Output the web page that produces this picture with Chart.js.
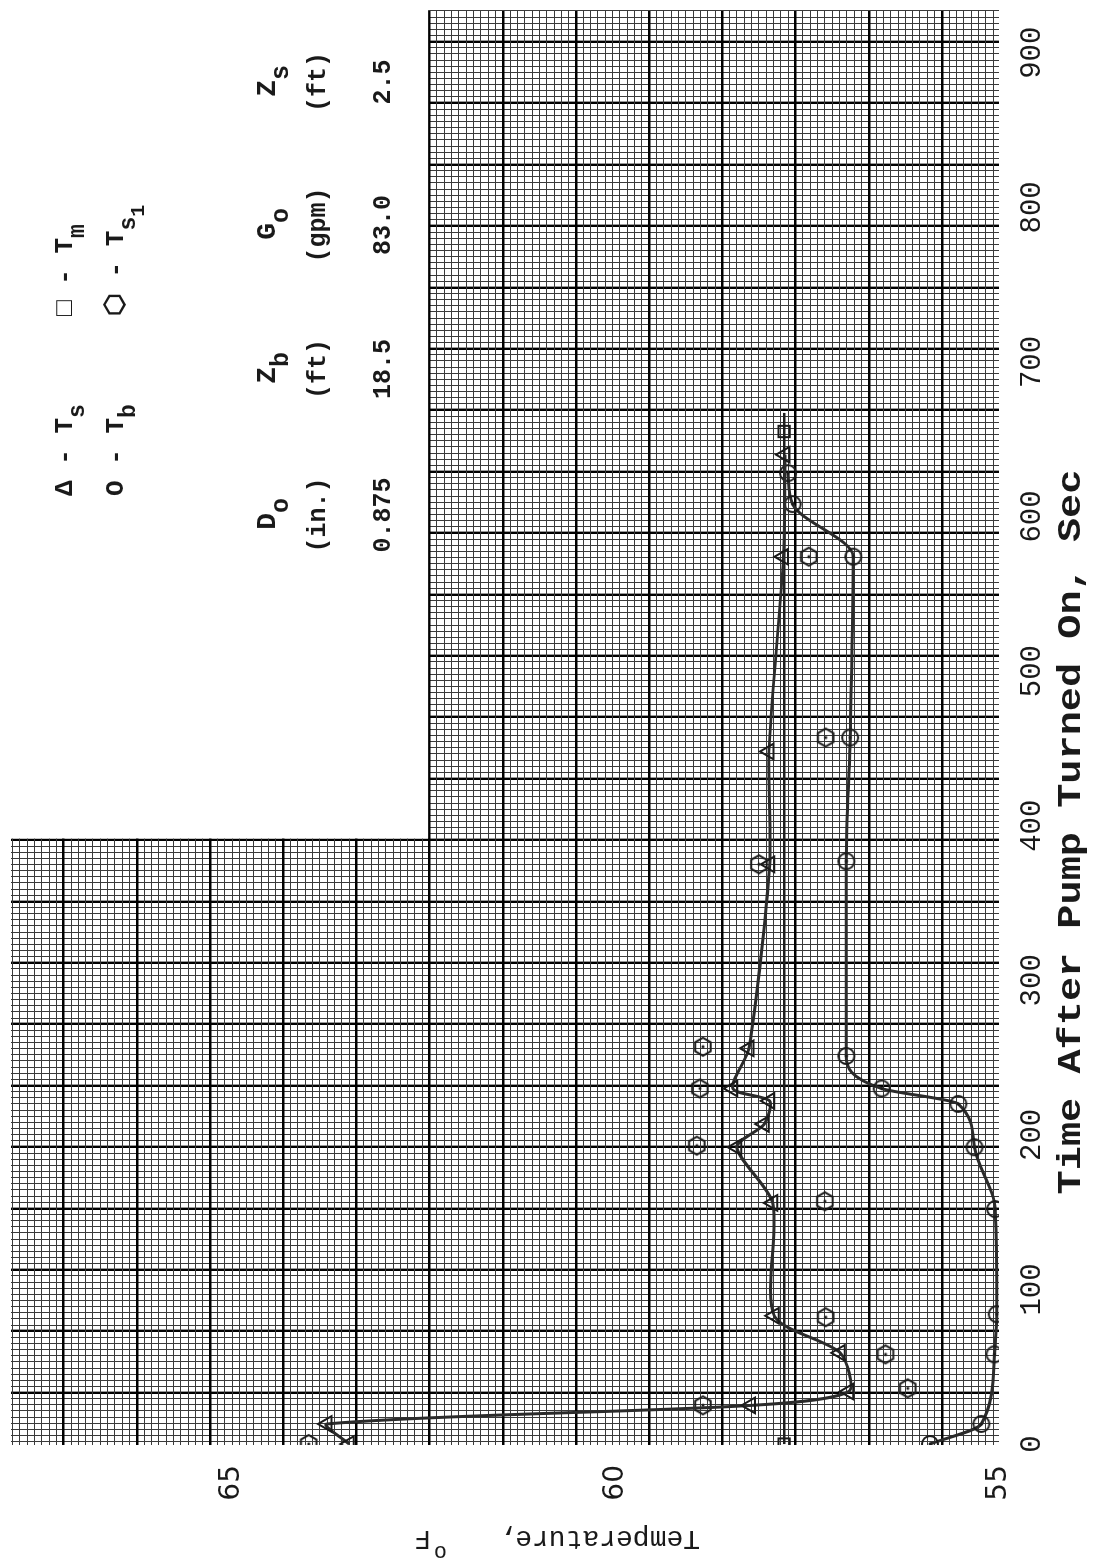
<!DOCTYPE html>
<html>
<head>
<meta charset="utf-8">
<script src="https://cdn.jsdelivr.net/npm/chart.js@4.4.1/dist/chart.umd.min.js"></script>
<style>
  html, body { margin: 0; padding: 0; background: #fff; }
  body { width: 1097px; height: 1565px; overflow: hidden; position: relative; }
  /* the plot is laid out upright (time across) and turned a quarter left on the page */
  #wrap { position: absolute; left: 0; top: 0; width: 1565px; height: 1097px;
          transform-origin: 0 0; transform: translate(0, 1565px) rotate(-90deg); }
</style>
</head>
<body>
<div id="wrap"><canvas id="temps" width="1565" height="1097"></canvas></div>
<script>
"use strict";

/* --- axis ticks --- */
const timeTicks = [0, 100, 200, 300, 400, 500, 600, 700, 800, 900];
const tempTicks = [55, 60, 65];

/* --- measured temperatures (time in sec, temperature in deg F) --- */
const tsTime = [0, 13, 25, 34, 59, 83, 156, 192, 207, 222, 230, 256, 375, 448, 574, 640];
const tsTemp = [63.47, 63.76, 58.24, 56.96, 57.07, 57.93, 57.95, 58.42, 58.06, 57.99, 58.47, 58.26, 57.99, 58.0, 57.81, 57.79];

const tbTime = [0, 13, 58, 84, 152, 192, 220, 230, 251, 377, 457, 574, 608, 628];
const tbTemp = [55.9, 55.23, 55.06, 55.03, 55.05, 55.32, 55.53, 56.53, 56.99, 56.99, 56.94, 56.9, 57.69, 57.75];

const tmTime = [0, 655, 667];
const tmTemp = [57.8, 57.8, 57.8];

const ts1Time = [0, 25, 36, 58, 82, 157, 193, 230, 257, 375, 457, 574];
const ts1Temp = [64.0, 58.86, 56.19, 56.48, 57.26, 57.27, 58.94, 58.9, 58.86, 58.13, 57.26, 57.48];

/* --- run parameters --- */
const paramHeads = [['D', 'o'], ['Z', 'b'], ['G', 'o'], ['Z', 's']];
const paramUnits = ['(in.)', '(ft)', '(gpm)', '(ft)'];
const paramValues = ['0.875', '18.5', '83.0', '2.5'];

const pairs = (xs, ys) => xs.map((x, i) => ({ x: x, y: ys[i] }));

const INK = '#1a1a1a';
const MONO = '"Liberation Mono", "DejaVu Sans Mono", monospace';

/* small marker sprites: circle / hexagon with a centre dot */
function sprite(kind) {
  const c = document.createElement('canvas');
  c.width = 22; c.height = 22;
  const g = c.getContext('2d');
  g.strokeStyle = INK; g.lineWidth = 2;
  g.beginPath();
  if (kind === 'circle') {
    g.arc(11, 11, 8, 0, Math.PI * 2);
  } else {
    for (let k = 0; k < 6; k++) {
      const a = Math.PI / 3 * k;
      const px = 11 + 9 * Math.cos(a), py = 11 + 9 * Math.sin(a);
      k ? g.lineTo(px, py) : g.moveTo(px, py);
    }
    g.closePath();
  }
  g.stroke();
  g.fillStyle = INK;
  g.beginPath(); g.arc(11, 11, 1.6, 0, Math.PI * 2); g.fill();
  return c;
}
const circleDot = sprite('circle');
const hexDot = sprite('hex');

/* text with a subscript (and optional sub-subscript) */
function subText(ctx, main, sub, x, y, size, subsub) {
  ctx.font = 'bold ' + size + 'px ' + MONO;
  ctx.textAlign = 'left';
  ctx.textBaseline = 'alphabetic';
  ctx.fillText(main, x, y);
  let w = ctx.measureText(main).width;
  ctx.font = 'bold ' + Math.round(size * 0.9) + 'px ' + MONO;
  ctx.fillText(sub, x + w, y + size * 0.45);
  if (subsub) {
    const w2 = ctx.measureText(sub).width;
    ctx.font = 'bold ' + Math.round(size * 0.75) + 'px ' + MONO;
    ctx.fillText(subsub, x + w + w2, y + size * 0.8);
  }
}

/* blank the upper right block of the paper and type the key and run table there */
const paperNotch = {
  id: 'paperNotch',
  beforeDatasetsDraw(chart) {
    const ctx = chart.ctx;
    const px = chart.scales.paperX, py = chart.scales.paperY;
    const u0 = px.getPixelForValue(100);
    const v0 = py.getPixelForValue(80);
    ctx.save();
    ctx.fillStyle = '#fff';
    ctx.fillRect(u0 + 1.5, 0, chart.width - u0, v0 - 1.5);
    ctx.restore();
  },
  afterDraw(chart) {
    const ctx = chart.ctx;
    ctx.save();
    ctx.fillStyle = INK;

    // key
    subText(ctx, '\u0394 - T', 's', 1069, 72, 26);
    subText(ctx, '\u25A1 - T', 'm', 1249, 72, 26);
    subText(ctx, 'O - T', 'b', 1069, 123, 26);
    subText(ctx, '\u2B21 - T', 's', 1249, 123, 26, '1');

    // run parameters
    const colU = [1050, 1196, 1340, 1483];
    colU.forEach((u, i) => {
      ctx.font = 'bold 26px ' + MONO;
      const wHead = ctx.measureText(paramHeads[i][0]).width + 14;
      subText(ctx, paramHeads[i][0], paramHeads[i][1], u - wHead / 2, 275, 28);
      ctx.font = 'bold 25px ' + MONO;
      ctx.textAlign = 'center';
      ctx.fillText(paramUnits[i], u, 325);
      ctx.fillText(paramValues[i], u, 390);
    });

    // time axis title, stretched along the axis
    ctx.save();
    ctx.translate(733, 1072);
    ctx.scale(1.22, 1);
    ctx.font = 'bold 33px ' + MONO;
    ctx.textAlign = 'center';
    ctx.textBaseline = 'middle';
    ctx.fillText('Time After Pump Turned On, Sec', 0, 0);
    ctx.restore();

    // temperature axis title, reading up the left side
    ctx.translate(27, 555);
    ctx.rotate(-Math.PI / 2);
    ctx.textAlign = 'left';
    ctx.textBaseline = 'middle';
    ctx.font = '28px ' + MONO;
    ctx.fillText('Temperature,', -145, 0);
    ctx.font = '22px ' + MONO;
    ctx.fillText('o', 108, -14);
    ctx.font = '28px ' + MONO;
    ctx.fillText('F', 124, 0);
    ctx.restore();
  }
};

const isBold = (c) => c.tick && Math.round(c.tick.value) % 10 === 0;
const paperGrid = (c) => isBold(c) ? '#000' : '#3a3a3a';
const paperWidth = (c) => isBold(c) ? 2.4 : 1;
const unitTicks = (s) => {
  const out = [];
  for (let v = Math.ceil(s.min); v <= Math.floor(s.max); v++) out.push({ value: v });
  s.ticks = out;
};
const noPad = (s) => { s.paddingTop = 0; s.paddingBottom = 0; s.paddingLeft = 0; s.paddingRight = 0; };

new Chart(document.getElementById('temps'), {
  type: 'scatter',
  data: {
    datasets: [
      {
        label: 'Ts',
        data: pairs(tsTime, tsTemp),
        showLine: true,
        tension: 0.25,
        borderColor: '#2b2b2b',
        borderWidth: 3,
        pointStyle: 'triangle',
        pointRadius: 9,
        pointBorderWidth: 2,
        pointBorderColor: INK,
        pointBackgroundColor: 'rgba(0,0,0,0)'
      },
      {
        label: 'Tb',
        data: pairs(tbTime, tbTemp),
        showLine: true,
        cubicInterpolationMode: 'monotone',
        borderColor: '#2b2b2b',
        borderWidth: 3,
        pointStyle: circleDot
      },
      {
        label: 'Tm',
        data: pairs(tmTime, tmTemp),
        showLine: true,
        borderColor: '#1e1e1e',
        borderWidth: 2.5,
        pointStyle: 'rect',
        pointRadius: [8, 8, 0],
        pointBorderWidth: 2,
        pointBorderColor: INK,
        pointBackgroundColor: 'rgba(0,0,0,0)'
      },
      {
        label: 'Ts1',
        data: pairs(ts1Time, ts1Temp),
        showLine: false,
        pointStyle: hexDot
      }
    ]
  },
  options: {
    responsive: false,
    animation: false,
    devicePixelRatio: 1,
    layout: { padding: { top: 7, right: 4, left: 0, bottom: 0 } },
    plugins: {
      legend: { display: false },
      tooltip: { enabled: false },
      title: { display: false }
    },
    scales: {
      x: {
        type: 'linear',
        position: 'bottom',
        min: -0.6,
        max: 927,
        afterBuildTicks: (s) => { s.ticks = timeTicks.map(v => ({ value: v })); },
        afterFit: (s) => { s.height = 98; noPad(s); },
        grid: { display: false },
        border: { display: false },
        ticks: {
          autoSkip: false,
          maxRotation: 0,
          padding: 8,
          color: INK,
          font: { family: MONO, size: 29 }
        }
      },
      y: {
        type: 'linear',
        position: 'left',
        min: 55,
        max: 67.88,
        afterBuildTicks: (s) => { s.ticks = tempTicks.map(v => ({ value: v })); },
        afterFit: (s) => { s.width = 120; noPad(s); },
        grid: { display: false },
        border: { display: false },
        ticks: {
          padding: 12,
          color: INK,
          font: { family: '"DejaVu Sans", sans-serif', size: 28 }
        }
      },
      paperX: {
        type: 'linear',
        position: 'bottom',
        min: 1.46,
        max: 235.0,
        afterBuildTicks: unitTicks,
        afterFit: (s) => { s.height = 0; noPad(s); },
        border: { display: false },
        grid: { color: paperGrid, lineWidth: paperWidth, drawTicks: false },
        ticks: { display: false }
      },
      paperY: {
        type: 'linear',
        position: 'left',
        min: 2.2,
        max: 137.2,
        afterBuildTicks: unitTicks,
        afterFit: (s) => { s.width = 0; noPad(s); },
        border: { display: false },
        grid: { color: paperGrid, lineWidth: paperWidth, drawTicks: false },
        ticks: { display: false }
      }
    }
  },
  plugins: [paperNotch]
});
</script>
</body>
</html>
